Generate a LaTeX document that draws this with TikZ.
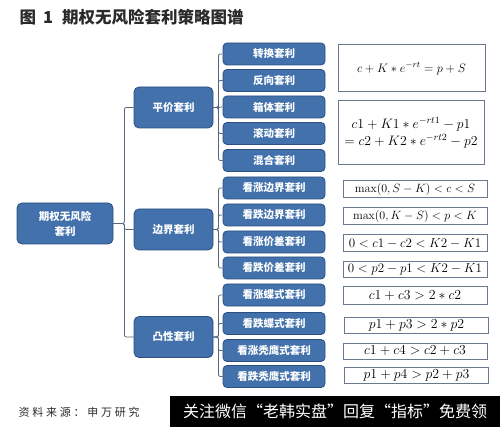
\RequirePackage{fix-cm}
\documentclass[tikz,border=0pt]{standalone}
\usepackage[no-math]{fontspec}
\newfontfamily\cjk{Noto Sans CJK SC}
\newfontfamily\cjksrc[LetterSpace=25]{Noto Sans CJK SC}
\usetikzlibrary{positioning}
\definecolor{boxblue}{HTML}{4271AB}
\definecolor{boxedge}{HTML}{2C4F82}
\definecolor{linkgray}{HTML}{56677C}
\definecolor{frmedge}{HTML}{6A7A8E}
\definecolor{titlegray}{HTML}{2A2A2A}

\begin{document}
\begin{tikzpicture}[
    x=1pt, y=-1pt,
    box/.style={rectangle, draw=boxedge, line width=0.8pt, fill=boxblue, rounded corners=5pt, text=white, align=center, inner sep=0pt, font=\cjk\bfseries\fontsize{10.5}{15}\selectfont},
    mid/.style={box, minimum width=79pt, minimum height=41pt},
    leaf/.style={box, rounded corners=4pt, minimum width=102pt, minimum height=22pt},
    frm/.style={rectangle, draw=frmedge, line width=1pt, fill=white, align=center, inner sep=0pt, minimum width=144pt, minimum height=17pt, font=\fontsize{13}{18}\selectfont},
    link/.style={draw=linkgray, line width=0.8pt, rounded corners=2pt}
]
\useasboundingbox (0,0) rectangle (500,427);

% Title
\node[anchor=west, text=titlegray, font=\cjk\bfseries\fontsize{16.5}{20}\selectfont] (title) at (16,17) {图\hspace{7pt}1\hspace{9pt}期权无风险套利策略图谱};

% Nodes
\node[box, minimum width=96pt, minimum height=41pt] (root) at (65,223.5) {期权无风险\\套利};
\node[mid] (parity) at (173.5,107.5) {平价套利};
\node[mid] (bound) at (173.5,229.5) {边界套利};
\node[mid] (convex) at (173.5,337) {凸性套利};

% Leaves
\node[leaf] (conv) at (274,54) {转换套利};
\node[leaf] (rev) at (274,80.5) {反向套利};
\node[leaf] (boxarb) at (274,107) {箱体套利};
\node[leaf] (roll) at (274,133.5) {滚动套利};
\node[leaf] (mix) at (274,160.5) {混合套利};
\node[leaf] (callbd) at (274,188) {看涨边界套利};
\node[leaf] (putbd) at (274,215) {看跌边界套利};
\node[leaf] (callsp) at (274,242) {看涨价差套利};
\node[leaf] (putsp) at (274,268) {看跌价差套利};
\node[leaf] (callbf) at (274,295) {看涨蝶式套利};
\node[leaf] (putbf) at (274,323.5) {看跌蝶式套利};
\node[leaf] (callco) at (274,350.5) {看涨秃鹰式套利};
\node[leaf] (putco) at (274,376.5) {看跌秃鹰式套利};

% Formulas
\node[frm, minimum width=147pt, minimum height=47pt, font=\fontsize{12.3}{18}\selectfont] (fparity) at (411.5,68.5) {$c+K\ast e^{-rt}=p+S$};
\node[frm, minimum width=146pt, minimum height=64pt, font=\fontsize{13.7}{17}\selectfont] (fbox) at (411,133) {$c1+K1\ast e^{-rt1}-p1$\\$=c2+K2\ast e^{-rt2}-p2$};
\node[frm, font=\fontsize{12}{18}\selectfont] (fcallbd) at (415,189.5) {$\max(0,S-K)<c<S$};
\node[frm, font=\fontsize{12}{18}\selectfont] (fputbd) at (415,216.5) {$\max(0,K-S)<p<K$};
\node[frm] (fcallsp) at (415,243.5) {$0<c1-c2<K2-K1$};
\node[frm, minimum height=16pt] (fputsp) at (415,269.5) {$0<p2-p1<K2-K1$};
\node[frm, font=\fontsize{13.8}{18}\selectfont] (fcallbf) at (415,295.5) {$c1+c3>2\ast c2$};
\node[frm, minimum height=16pt, font=\fontsize{13.8}{18}\selectfont] (fputbf) at (416.5,325) {$p1+p3>2\ast p2$};
\node[frm, minimum height=16pt, font=\fontsize{13.8}{18}\selectfont] (fcallco) at (415,351) {$c1+c4>c2+c3$};
\node[frm, minimum height=16pt, font=\fontsize{13.8}{18}\selectfont] (fputco) at (416.5,375) {$p1+p4>p2+p3$};

% Footer
\node[anchor=west, text=titlegray, font=\cjksrc\fontsize{11}{13}\selectfont] (source) at (15,412) {资料来源：申万研究};
\node[anchor=north west, fill=black, minimum width=330pt, minimum height=31pt, inner sep=0pt, text=white, font=\cjk\fontsize{16}{18}\selectfont] (banner) at (170,396) {关注微信“老韩实盘”回复“指标”免费领};

% Connectors
\draw[link] (root.east) -- ++(11,0) |- (parity.west);
\draw[link] (root.east) -- ++(11,0) |- (bound.west);
\draw[link] (root.east) -- ++(11,0) |- (convex.west);
\draw[link] (parity.east) -- ++(5,0) |- (conv.west);
\draw[link] (parity.east) -- ++(5,0) |- (rev.west);
\draw[link] (parity.east) -- ++(5,0) |- (boxarb.west);
\draw[link] (parity.east) -- ++(5,0) |- (roll.west);
\draw[link] (parity.east) -- ++(5,0) |- (mix.west);
\draw[link] (bound.east) -- ++(5,0) |- (callbd.west);
\draw[link] (bound.east) -- ++(5,0) |- (putbd.west);
\draw[link] (bound.east) -- ++(5,0) |- (callsp.west);
\draw[link] (bound.east) -- ++(5,0) |- (putsp.west);
\draw[link] (convex.east) -- ++(5,0) |- (callbf.west);
\draw[link] (convex.east) -- ++(5,0) |- (putbf.west);
\draw[link] (convex.east) -- ++(5,0) |- (callco.west);
\draw[link] (convex.east) -- ++(5,0) |- (putco.west);

\end{tikzpicture}
\end{document}
